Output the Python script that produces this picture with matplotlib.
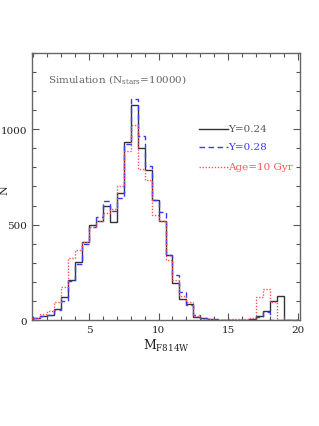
import numpy as np
import matplotlib
matplotlib.use("Agg")
import matplotlib.pyplot as plt
from matplotlib.ticker import MultipleLocator

plt.rcParams['font.family'] = ['DejaVu Serif']
plt.rcParams['mathtext.fontset'] = 'dejavuserif'

# Bin edges of the histograms (magnitude, width 0.5)
bin_edges = np.arange(1.0, 20.01, 0.5)

# Y = 0.24 (black, solid)
counts_y024 = [12, 22, 27, 58, 119, 210, 302, 410, 499, 520,
               600, 515, 668, 933, 1125, 899, 788, 628, 520, 340,
               193, 112, 85, 18, 9, 5, 3, 3, 2, 2,
               2, 5, 19, 49, 101, 124, 0, 0]
# Y = 0.28 (blue, dashed)
counts_y028 = [12, 22, 28, 55, 101, 207, 295, 398, 487, 541,
               625, 569, 640, 921, 1160, 962, 806, 628, 566, 340,
               235, 149, 78, 28, 10, 5, 4, 3, 2, 2,
               2, 3, 14, 40, 0, 0, 0, 0]
# Age = 10 Gyr (red, dotted)
counts_age10 = [10, 31, 47, 94, 171, 326, 366, 407, 490, 517,
                560, 581, 702, 887, 1021, 794, 736, 553, 520, 316,
                212, 127, 95, 20, 8, 4, 3, 3, 4, 4,
                5, 10, 119, 162, 96, 0, 0, 0]

labels = ["Y=0.24", "Y=0.28", "Age=10 Gyr"]
colors = ["#333333", "#3a3aff", "#ff5555"]
styles = ["-", (0, (4, 2.5)), (0, (1, 1.2))]

fig = plt.figure(figsize=(3.19, 4.27), dpi=100)
ax = fig.add_axes([0.100, 0.248, 0.840, 0.626])

for vals, c, ls in zip([counts_y024, counts_y028, counts_age10], colors, styles):
    ax.stairs(vals, bin_edges, color=c, linestyle=ls, linewidth=1.0, baseline=0)

ax.set_xlim(0.9, 20.15)
ax.set_ylim(0, 1400)

ax.xaxis.set_major_locator(MultipleLocator(5))
ax.xaxis.set_minor_locator(MultipleLocator(1))
ax.yaxis.set_major_locator(MultipleLocator(500))
ax.yaxis.set_minor_locator(MultipleLocator(100))
ax.tick_params(which='both', direction='in', top=True, right=True,
               color='#555555', labelsize=7.5, labelcolor='#222222')
ax.tick_params(which='major', length=5, width=0.8)
ax.tick_params(which='minor', length=3, width=0.8)
for s in ax.spines.values():
    s.set_color('#666666')
    s.set_linewidth(1.0)

ax.set_xlabel(r"M$_{\rm F814W}$", fontsize=9, color='#222222', labelpad=2)
ax.set_ylabel("N", fontsize=8, color='#222222')
ax.yaxis.set_label_coords(-0.082, 0.49)

ax.text(0.06, 0.905, r"Simulation (N$_{\rm stars}$=10000)", transform=ax.transAxes,
        fontsize=7.5, color='#666666', va='center', ha='left')

# legend drawn as lines + labels
ly = [0.715, 0.648, 0.574]
for lab, c, ls, yy in zip(labels, colors, styles, ly):
    ax.plot([0.625, 0.730], [yy, yy], transform=ax.transAxes, color=c,
            linestyle=ls, linewidth=1.0)
    ax.text(0.733, yy, lab, transform=ax.transAxes, fontsize=7.5,
            color=('#555555' if c == colors[0] else c), va='center', ha='left')

fig.savefig("out.png", dpi=100)
